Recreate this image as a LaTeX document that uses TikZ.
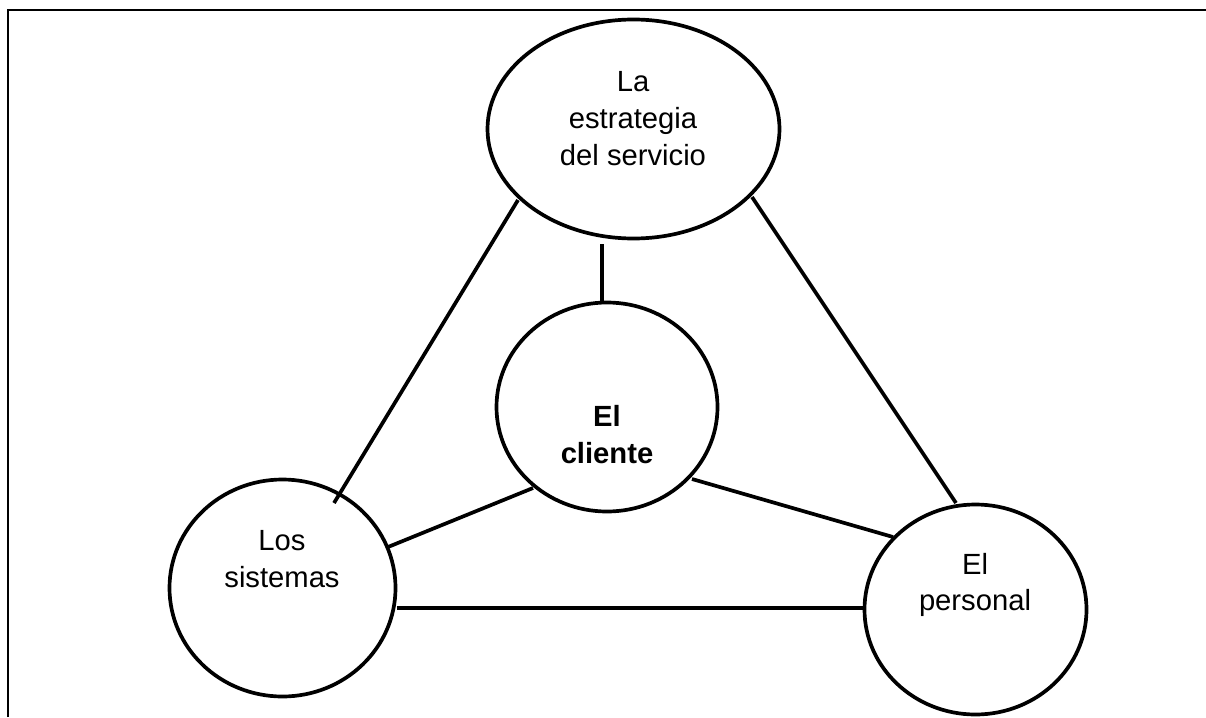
\documentclass[tikz,border=0pt]{standalone}
\usepackage{fontspec}
\setmainfont{Liberation Sans}
\usetikzlibrary{shapes.geometric}
\begin{document}
\begin{tikzpicture}[x=1pt,y=-1pt,
  bub/.style={draw=black,line width=3.7pt,ellipse,inner sep=0pt},
  lbl/.style={align=center,inner sep=0pt,font=\fontsize{29.2}{36.7}\selectfont},
  lnk/.style={draw=black,line width=3.7pt}]
\useasboundingbox (0,0) rectangle (1206,717);
\fill[white] (0,0) rectangle (1206,717);
\draw[line width=2pt] (8.3,717) -- (8.3,10) -- (1206,10);
\node[bub,minimum width=292pt,minimum height=219pt] (s) at (633.5,129) {};
\node[bub,minimum width=221pt,minimum height=209pt] (c) at (607,407) {};
\node[bub,minimum width=226pt,minimum height=217pt] (l) at (282.5,588) {};
\node[bub,minimum width=222pt,minimum height=210pt] (p) at (975.5,609.5) {};
\node[lbl] (ts) at (633,118.5) {La\\estrategia\\del servicio};
\node[lbl,font=\fontsize{29.2}{36.7}\selectfont\bfseries] (tc) at (607,434.5) {El\\cliente};
\node[lbl] (tl) at (282,559) {Los\\sistemas};
\node[lbl] (tp) at (975,585) {El\\personal};
\coordinate (a1) at (518,200); \coordinate (a2) at (334,503);
\coordinate (b1) at (602,244); \coordinate (b2) at (602,301);
\coordinate (d1) at (752,197); \coordinate (d2) at (956,503);
\coordinate (e1) at (533,488); \coordinate (e2) at (388,547);
\coordinate (f1) at (692,479); \coordinate (f2) at (893,537);
\coordinate (g1) at (397,608); \coordinate (g2) at (863,608);
\draw[lnk] (a1)--(a2); \draw[lnk] (b1)--(b2); \draw[lnk] (d1)--(d2);
\draw[lnk] (e1)--(e2); \draw[lnk] (f1)--(f2); \draw[lnk] (g1)--(g2);
\end{tikzpicture}
\end{document}
